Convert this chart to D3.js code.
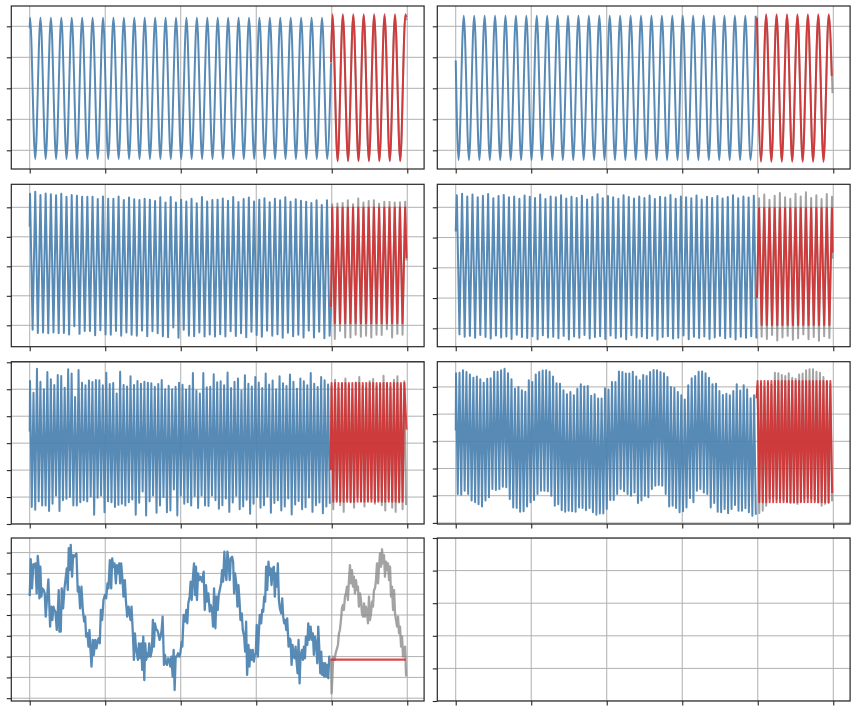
<!DOCTYPE html>
<html>
<head>
<meta charset="utf-8">
<script src="https://cdn.jsdelivr.net/npm/d3@7"></script>
<style>
  html, body { margin: 0; padding: 0; background: #ffffff; }
  svg { display: block; }
</style>
</head>
<body>
<svg id="chart" width="856" height="712"></svg>
<script>
// ---------------- DATA ----------------
// shared time axis
const xTickValues = [0, 100, 200, 300, 400, 500];

// Panel A (row 1, left): extremes of a sine, half-period grid starting at a peak
const aTrainHead = [0, 1.94], aTrainTail = [399, 0.8];
const aTrainPeaks   = [2.28,2.28,2.28,2.28,2.28,2.28,2.28,2.28,2.28,2.28,2.28,2.28,2.28,2.28,2.28,2.28,2.28,2.28,2.28,2.28,2.28,2.28,2.28,2.28,2.28,2.28,2.28,2.28,2.28];
const aTrainTroughs = [-2.28,-2.28,-2.28,-2.28,-2.28,-2.28,-2.28,-2.28,-2.28,-2.28,-2.28,-2.28,-2.28,-2.28,-2.28,-2.28,-2.28,-2.28,-2.28,-2.28,-2.28,-2.28,-2.28,-2.28,-2.28,-2.28,-2.28,-2.28,-2.28];
const aTestHead = [399, 0.75], aTestTail = [499, 2.2];
const aTestPeaks   = [2.33,2.33,2.33,2.33,2.33,2.33,2.33,2.33];
const aTestTroughs = [-2.33,-2.33,-2.33,-2.33,-2.33,-2.33,-2.33];
const aFcHead = [399, 0.85], aFcTail = [499, 2.3];
const aFcPeaks   = [2.39,2.39,2.39,2.39,2.39,2.39,2.39,2.39];
const aFcTroughs = [-2.35,-2.35,-2.35,-2.35,-2.35,-2.35,-2.35];

// Panel B (row 1, right): grid starting at a trough
const bTrainHead = [0, 0.9];
const bTrainTroughs = [-2.31,-2.31,-2.31,-2.31,-2.31,-2.31,-2.31,-2.31,-2.31,-2.31,-2.31,-2.31,-2.31,-2.31,-2.31,-2.31,-2.31,-2.31,-2.31,-2.31,-2.31,-2.31,-2.31,-2.31,-2.31,-2.31,-2.31,-2.31,-2.31];
const bTrainPeaks   = [2.34,2.34,2.34,2.34,2.34,2.34,2.34,2.34,2.34,2.34,2.34,2.34,2.34,2.34,2.34,2.34,2.34,2.34,2.34,2.34,2.34,2.34,2.34,2.34,2.34,2.34,2.34,2.34,2.34];
const bTestHead = [399, 2.25], bTestTail = [499, -0.16];
const bTestTroughs = [-2.33,-2.33,-2.33,-2.33,-2.33,-2.33,-2.33];
const bTestPeaks   = [2.35,2.35,2.35,2.35,2.35,2.35,2.35];
const bFcHead = [399, 2.28], bFcTail = [498, 0.4];
const bFcTroughs = [-2.37,-2.37,-2.37,-2.37,-2.37,-2.37,-2.37];
const bFcPeaks   = [2.39,2.39,2.39,2.39,2.39,2.39,2.39];

// Panel C (row 2, left)
const cTrainHead = [0, 1.34], cTrainTail = [399, -1.4];
const cTrainPeaks = [2.46,2.53,2.42,2.47,2.44,2.41,2.46,2.36,2.42,2.39,2.36,2.36,2.36,2.28,2.37,2.29,2.29,2.37,2.25,2.33,2.27,2.25,2.29,2.26,2.21,2.34,2.16,2.35,2.16,2.26,2.20,2.29,2.14,2.35,2.20,2.25,2.26,2.30,2.22,2.35,2.18,2.28,2.33,2.20,2.26,2.31,2.17,2.29,2.24,2.34,2.19,2.27,2.22,2.19,2.15,2.24,2.08,2.24];
const cTrainTroughs = [-2.15,-2.26,-2.24,-2.27,-2.24,-2.27,-2.26,-2.31,-2.03,-2.29,-2.19,-2.19,-2.34,-2.17,-2.31,-2.32,-2.19,-2.35,-2.24,-2.32,-2.35,-2.18,-2.37,-2.20,-2.27,-2.37,-2.40,-2.07,-2.42,-2.15,-2.35,-2.37,-2.24,-2.38,-2.31,-2.38,-2.30,-2.38,-2.20,-2.36,-2.27,-2.40,-2.22,-2.33,-2.39,-2.18,-2.35,-2.30,-2.42,-2.25,-2.37,-2.32,-2.41,-2.18,-2.41,-2.22,-2.44,-2.35];
const cTestHead = [399, -1.4], cTestTail = [499, 0.2];
const cTestPeaks = [2.10,2.13,2.15,2.24,2.10,2.30,2.16,2.21,2.24,2.12,2.19,2.18,2.16,2.17,2.19];
const cTestTroughs = [-2.46,-2.19,-2.41,-2.41,-2.32,-2.39,-2.35,-2.41,-2.32,-2.33,-2.13,-2.41,-2.29,-2.32];
const cFcHead = [399, -1.4], cFcTail = [499, 0.27];
const cFcPeaks = [1.99,1.99,1.99,1.99,1.99,1.99,1.99,1.99,1.99,1.99,1.99,1.99,1.99,1.99,1.99];
const cFcTroughs = [-1.93,-1.93,-1.93,-1.93,-1.93,-1.93,-1.93,-1.93,-1.93,-1.93,-1.93,-1.93,-1.93,-1.93];

// Panel D (row 2, right)
const dTrainHead = [0, 1.2];
const dTrainPeaks = [2.40,2.45,2.36,2.42,2.33,2.38,2.44,2.30,2.37,2.41,2.33,2.36,2.28,2.39,2.35,2.31,2.42,2.27,2.36,2.33,2.40,2.29,2.35,2.31,2.38,2.26,2.34,2.43,2.30,2.37,2.33,2.28,2.40,2.34,2.29,2.36,2.31,2.39,2.27,2.35,2.32,2.41,2.28,2.36,2.33,2.30,2.39,2.26,2.35,2.31,2.37,2.29,2.34,2.40,2.30,2.36,2.32,2.38];
const dTrainTroughs = [-2.20,-2.28,-2.25,-2.31,-2.22,-2.29,-2.34,-2.24,-2.30,-2.27,-2.35,-2.21,-2.29,-2.32,-2.26,-2.36,-2.23,-2.30,-2.28,-2.33,-2.25,-2.37,-2.27,-2.31,-2.22,-2.34,-2.29,-2.26,-2.35,-2.24,-2.32,-2.28,-2.36,-2.23,-2.30,-2.27,-2.33,-2.25,-2.38,-2.29,-2.26,-2.34,-2.31,-2.24,-2.36,-2.28,-2.32,-2.27,-2.35,-2.30,-2.25,-2.33,-2.29,-2.37,-2.28,-2.31,-2.26,-2.34];
const dTestHead = [399, -1.0], dTestTail = [499, 0.3];
const dTestPeaks = [2.30,2.42,2.25,2.38,2.47,2.33,2.28,2.45,2.36,2.50,2.31,2.40,2.27,2.44,2.35];
const dTestTroughs = [-2.28,-2.35,-2.22,-2.40,-2.30,-2.25,-2.38,-2.33,-2.20,-2.36,-2.29,-2.41,-2.26,-2.32];
const dFcHead = [399, -1.0], dFcTail = [499, 0.5];
const dFcPeaks = [1.98,1.98,1.98,1.98,1.98,1.98,1.98,1.98,1.98,1.98,1.98,1.98,1.98,1.98,1.98];
const dFcTroughs = [-1.89,-1.89,-1.89,-1.89,-1.89,-1.89,-1.89,-1.89,-1.89,-1.89,-1.89,-1.89,-1.89,-1.89];

// Panel E (row 3, left)
const eTrainHead = [0, 0.43];
const eTrainPeaks = [2.31,1.87,2.76,2.28,2.00,2.64,2.37,2.16,2.53,2.49,2.06,2.74,2.58,1.71,2.71,2.24,2.15,2.32,2.27,2.34,2.33,2.15,2.61,2.19,2.23,1.84,2.65,2.16,2.10,2.48,2.16,2.31,2.20,2.28,2.24,2.22,2.09,2.19,2.34,2.00,2.13,2.00,2.09,2.24,2.17,1.99,2.13,2.60,1.95,1.84,2.60,2.07,2.09,2.56,2.26,
  2.30,2.15,2.62,2.05,2.28,2.40,1.95,2.52,2.20,2.10,2.45,2.25,2.05,2.58,2.18,2.32,2.00,2.48,2.22,2.12,2.55,2.28,2.02,2.40,2.30,2.15,2.60,2.20,2.08,2.45,2.33,2.18];
const eTrainTroughs = [-2.37,-2.47,-2.16,-2.31,-2.31,-2.52,-2.25,-1.94,-2.52,-2.12,-2.06,-2.00,-2.31,-2.31,-2.19,-2.12,-2.16,-1.98,-2.66,-2.03,-1.94,-2.56,-2.16,-2.19,-2.37,-2.29,-2.25,-2.31,-2.19,-2.09,-2.66,-2.21,-1.79,-2.68,-2.16,-1.94,-2.58,-2.31,-2.00,-2.56,-2.50,-1.72,-2.68,-1.94,-2.25,-2.19,-2.31,-1.96,-2.41,-1.94,-2.31,-2.33,-1.94,-2.12,-2.43,
  -2.30,-2.05,-2.55,-2.20,-1.95,-2.45,-2.35,-2.10,-2.62,-2.25,-2.00,-2.40,-2.30,-1.98,-2.58,-2.22,-2.12,-2.50,-2.35,-2.05,-2.65,-2.28,-2.15,-2.45,-2.38,-2.02,-2.55,-2.30,-2.20,-2.60,-2.35,-2.25];
const eTestHead = [398.5, -1.0];
const eTestPeaks = [2.10,2.35,2.05,2.20,2.40,2.15,2.00,2.25,2.45,2.12,2.05,2.30,2.38,2.10,2.18,2.50,2.22,2.08,2.35,2.48,2.15,2.30];
const eTestTroughs = [-2.45,-2.10,-2.30,-2.55,-2.05,-2.20,-2.40,-2.00,-2.15,-2.35,-2.10,-2.05,-2.25,-2.12,-2.30,-2.50,-2.08,-2.40,-2.55,-2.20,-2.45,-2.30];
const eFcHead = [398.5, -1.0], eFcTail = [499, 0.5];
const eFcPeaks = [2.23,2.23,2.23,2.23,2.23,2.23,2.23,2.23,2.23,2.23,2.23,2.23,2.23,2.23,2.23,2.23,2.23,2.23,2.23,2.23,2.23,2.23];
const eFcTroughs = [-2.17,-2.17,-2.17,-2.17,-2.17,-2.17,-2.17,-2.17,-2.17,-2.17,-2.17,-2.17,-2.17,-2.17,-2.17,-2.17,-2.17,-2.17,-2.17,-2.17,-2.17];

// Panel F (row 3, right)
const fTrainHead = [0, 0.4];
const fTrainPeaks = [2.50,2.52,2.61,2.55,2.46,2.34,2.38,2.28,2.15,2.30,2.32,2.56,2.56,2.61,2.67,2.50,2.28,1.93,2.00,1.88,1.82,2.24,2.18,2.46,2.55,2.60,2.61,2.56,2.38,2.13,2.12,1.88,1.73,1.81,1.69,1.93,2.10,2.01,2.03,1.67,1.73,1.57,1.57,1.95,1.90,2.18,2.18,2.57,2.55,2.49,2.49,2.56,2.38,2.24,2.44,2.40,2.55,2.62,2.61,2.55,2.50,2.36,2.00,1.96,1.81,1.69,1.54,2.06,2.32,2.40,2.56,2.57,
  2.50,2.34,2.10,2.12,1.85,1.70,1.75,1.69,1.85,2.10,1.87,2.06,1.91,1.58,1.69];
const fTrainTroughs = [-1.94,-1.96,-1.82,-1.94,-2.18,-2.24,-2.31,-2.40,-2.18,-2.06,-1.75,-1.79,-1.75,-1.67,-1.69,-2.12,-2.43,-2.45,-2.59,-2.57,-2.40,-2.24,-2.16,-1.94,-1.82,-1.82,-1.84,-2.00,-2.37,-2.31,-2.53,-2.59,-2.55,-2.57,-2.59,-2.43,-2.45,-2.53,-2.45,-2.61,-2.70,-2.65,-2.65,-2.49,-2.16,-2.16,-1.94,-1.75,-1.84,-1.94,-2.00,-1.88,-2.27,-2.18,-2.00,-2.06,-1.75,-1.63,-1.61,-1.63,-1.94,-2.40,-2.37,-2.45,-2.61,-2.57,-2.43,-2.08,-2.24,-1.82,-1.75,-1.88,-1.94,
  -2.43,-2.27,-2.59,-2.61,-2.49,-2.64,-2.49,-2.34,-2.55,-2.55,-2.46,-2.61,-2.74,-2.70];
const fTestHead = [398.5, 1.58];
const fTestPeaks = [2.05,2.12,2.00,2.15,2.08,2.52,2.50,2.44,2.40,2.50,2.34,2.30,2.46,2.49,2.61,2.65,2.65,2.56,2.52,2.36,2.20,2.10];
const fTestTroughs = [-2.64,-2.55,-2.37,-2.10,-2.05,-2.12,-2.08,-2.15,-2.20,-2.27,-2.26,-2.30,-2.20,-2.10,-2.05,-2.10,-2.15,-2.25,-2.37,-2.30,-2.27,-2.20];
const fFcHead = [398.5, 1.58], fFcTail = [498.5, -1.9];
const fFcPeaks = [2.22,2.22,2.22,2.22,2.22,2.22,2.22,2.22,2.22,2.22,2.22,2.22,2.22,2.22,2.22,2.22,2.22,2.22,2.22,2.22,2.22,2.22];
const fFcTroughs = [-2.24,-2.24,-2.24,-2.24,-2.24,-2.24,-2.24,-2.24,-2.24,-2.24,-2.24,-2.24,-2.24,-2.24,-2.24,-2.24,-2.24,-2.24,-2.24,-2.24,-2.24];

// Panel G (row 4, left): noisy series, [time, value]
const gTrain = [[0,0.91],[1.3,2.68],[3,1.28],[4.8,2.44],[6.6,2.32],[7.5,2.48],[9.2,1.04],[10.6,2.84],[11.9,2.32],[12.8,0.80],[14.1,2.32],[15.4,0.88],[16.8,1.28],[18.5,1.20],[19.9,1.04],[21.2,-0.08],[24.7,1.71],[27,-0.56],[28.3,0.40],[30,-0.24],[31.4,0.40],[32.7,0.24],[34,0.16],[35.8,-0.72],[37.1,0.08],[38.4,1.20],[39.3,-0.80],[41.1,-0.80],[42.4,1.28],[44.2,0.32],[46,1.28],[47.3,1.68],[49.1,2.24],[50.4,1.20],[51.7,3.21],[53,2.16],[54.3,3.37],[56.1,1.84],[57.5,2.88],[58.8,2.80],[61.9,2.96],[63.6,1.12],[65,1.36],[66.7,0.32],[68.5,1.36],[70.3,0.24],[72.1,-0.32],[73.4,-0.08],[74.7,-1.04],[76.5,-0.88],[77.8,-1.52],[79.1,-0.72],[80.5,-1.68],[81.8,-2.48],[83.5,-1.20],[84.9,-1.92],[86.7,-1.20],[88.4,-1.60],[90.2,-1.20],[91.5,-1.12],[92.8,-1.36],[94.2,0.24],[95.9,-0.24],[97.7,0.72],[99.5,0.96],[101.2,0.80],[103,1.52],[104.3,1.28],[106.1,2.64],[107.9,1.28],[109.2,2.72],[110.5,2.32],[112.3,2.48],[114.1,1.52],[115.4,2.40],[117.2,2.00],[118.5,2.48],[119.8,1.52],[121.1,2.48],[122.9,1.68],[124.2,0.88],[126,1.68],[127.3,0.72],[129.1,-0.08],[130.9,0.40],[132.2,0.08],[133.5,-0.24],[134.8,0.40],[136.6,-0.88],[138,-2.16],[139.3,-0.88],[140.6,-1.52],[141.9,-1.84],[143.3,-2.16],[144.6,-1.36],[146.4,-2.08],[147.7,-1.36],[149,-2.64],[150.4,-1.04],[151.7,-3.13],[153,-1.36],[154.3,-2.16],[155.6,-1.84],[157,-2.00],[158.3,-1.36],[160.1,-2.00],[161.8,-1.68],[163.1,-0.24],[164.5,-1.52],[165.8,-0.40],[167.6,-0.72],[168.9,-0.72],[170.2,-0.88],[172,-1.20],[173.3,-1.04],[174.7,-0.72],[176,-0.08],[177.8,-2.40],[179.1,-1.92],[180.4,-2.32],[181.8,-2.40],[183.5,-2.08],[184.9,-2.16],[186.2,-2.48],[187.5,-2.00],[189.3,-2.96],[190.6,-1.68],[191.9,-3.61],[193.3,-2.00],[195,-2.00],[196.3,-1.84],[198.1,-2.00],[199.4,-1.84],[201.2,-1.28],[202.1,-1.52],[203.8,0.00],[205.6,-0.32],[207.4,0.24],[208.7,-0.40],[210,0.56],[211.8,0.88],[213.1,1.60],[214.5,0.72],[216.2,1.84],[217.6,2.48],[218.9,0.96],[220.2,2.32],[221.5,0.72],[222.9,2.00],[224.6,1.68],
  [226,1.84],[228.2,1.60],[230.4,2.08],[231.8,0.24],[233.5,1.44],[234.8,0.64],[236.6,1.04],[238.4,0.16],[239.7,0.48],[241.5,0.24],[242.8,-0.56],[244.1,1.28],[245.9,-0.64],[247.2,0.88],[249,0.24],[250.3,0.96],[251.7,1.20],[253.4,1.52],[254.8,2.16],[256.1,1.60],[257.8,3.04],[259.2,2.00],[260.5,1.68],[261.8,3.04],[263.2,2.64],[264.9,1.68],[266.3,2.72],[268,2.80],[269.4,2.56],[270.7,1.04],[272,2.00],[273.8,1.44],[275.1,0.40],[276.4,1.44],[277.8,0.72],[279.1,-0.24],[280.8,0.08],[282.2,-0.72],[284,-1.04],[285.3,-1.76],[286.6,-0.32],[287.9,-2.88],[289.7,-1.44],[291,-2.48],[292.3,-1.68],[293.7,-2.16],[295.4,-1.68],[296.8,-2.24],[298.1,-1.92],[299.4,-1.84],[300.7,-0.48],[302.1,-2.00],[303.4,-0.88],[304.7,0.00],[306.5,-0.40],[307.8,0.24],[309.2,0.16],[310.5,0.88],[311.8,0.64],[313.1,2.32],[314.5,1.20],[316.2,2.56],[317.6,1.92],[318.9,2.24],[320.2,1.44],[322,2.24],[323.3,2.32],[324.6,0.88],[326,2.00],[327.3,1.36],[328.6,2.48],[330,0.72],[331.3,0.32],[333.1,0.08],[334.4,0.80],[335.7,-0.08],[337,-0.40],[338.4,-0.24],[339.7,-0.72],[341,-0.16],[342.8,-1.52],[344.1,-1.12],[345.4,-1.20],[346.8,-2.40],[348.1,-1.44],[349.4,-2.00],[350.7,-2.08],[352.1,-1.52],[353.4,-2.24],[354.7,-2.80],[356,-1.20],[357.4,-3.29],[358.7,-1.92],[360.5,-1.68],[361.8,-2.16],[363.1,-1.52],[364.5,-2.08],[365.8,-1.04],[367.6,-1.44],[368.9,-0.40],[370.2,-1.20],[372,-0.56],
  [373.7,-1.20],[375,-0.88],[376.3,-1.92],[377.7,-1.04],[379.4,-1.44],[380.8,-2.32],[382.1,-0.56],[383.4,-1.52],[384.8,-2.80],[386.1,-1.76],[387.4,-2.88],[388.7,-2.32],[390.1,-2.96],[391.4,-2.32],[392.7,-2.96],[394,-2.40],[395.4,-3.04],[396.7,-2.00],[398,-2.00]];
const gTest = [[399,-2.16],[399.8,-3.77],[400.7,-3.13],[402,-2.00],[403.8,-2.16],[405.1,-1.84],[406.4,-1.68],[408.2,-1.44],[409.5,-0.88],[410.8,-0.72],[412.2,-0.24],[413.5,0.32],[414.8,0.48],[416.1,0.24],[417.5,0.88],[418.8,1.04],[420.1,1.36],[421.4,0.72],[422.8,1.68],[424.1,2.40],[425.4,1.52],[426.8,2.16],[428.1,1.36],[429.4,1.84],[430.7,1.04],[432.1,1.68],[433.4,1.20],[434.7,1.36],[436,0.40],[437.4,1.04],[438.7,0.72],[440,0.08],[441.4,-0.08],[442.7,0.56],[444,-0.08],[445.3,0.40],[446.7,0.08],[448,-0.40],[449.3,0.88],[450.6,-0.24],[452,0.08],[453.3,0.64],[454.6,0.40],[455.9,1.20],[457.3,1.28],[458.6,1.68],[459.9,2.48],[461.3,1.52],[462.6,2.32],[463.9,2.96],[465.2,2.32],[466.6,3.16],[467.9,2.48],[469.2,2.88],[470.5,1.84],[471.9,2.56],[473.2,2.16],[474.5,2.48],[475.9,1.68],[477.2,2.32],[478.5,0.88],[479.8,1.36],[481.2,0.24],[482.5,1.20],[483.8,0.08],[485.1,-0.24],[486.5,-0.56],[487.8,-0.08],[489.1,-0.88],[490.4,-0.56],[491.8,-1.52],[493.1,-1.04],[494.4,-2.00],[495.8,-1.68],[497.1,-1.52],[498.5,-2.96]];
const gForecast = [[398,-2.15],[498,-2.15]];

// time grids (first extreme time, half period) per row
const row1HalfPeriod = 6.905, row2HalfPeriod = 3.45, row3HalfPeriod = 2.295;
const aFirstPeak = 0.4, bFirstTrough = 3.73, cFirstPeak = 0.4, dFirstPeak = 1.5, eFirstPeak = 0.4, fFirstPeak = 0.4;

// y tick values per panel
const yTicksRow1 = [-2, -1, 0, 1, 2];
const yTicksRow2 = [-2, -1, 0, 1, 2];
const yTicksE = [-3, -2, -1, 0, 1, 2, 3];
const yTicksF = [-3, -2, -1, 0, 1, 2];
const yTicksG = [-4, -3, -2, -1, 0, 1, 2, 3];
const yTicksEmpty = [0, 0.2, 0.4, 0.6, 0.8, 1.0];

// ---------------- HELPERS ----------------
function zig(t0, dt, first, second) {
  const out = [];
  const n = Math.max(first.length, second.length);
  for (let i = 0; i < n; i++) {
    if (i < first.length) out.push([t0 + 2 * i * dt, first[i]]);
    if (i < second.length) out.push([t0 + (2 * i + 1) * dt, second[i]]);
  }
  return out;
}
function build(head, body, tail) {
  const pts = [];
  if (head) pts.push(head);
  pts.push(...body);
  if (tail) pts.push(tail);
  return pts;
}
function oscPanel(t0, dt, tr, te, fc) {
  const nTrain = tr.first.length + tr.second.length;
  const tTest = t0 + nTrain * dt;
  return {
    train: build(tr.head, zig(t0, dt, tr.first, tr.second), tr.tail),
    test: build(te.head, zig(tTest, dt, te.first, te.second), te.tail),
    fc: build(fc.head, zig(tTest, dt, fc.first, fc.second), fc.tail)
  };
}

const A = oscPanel(aFirstPeak, row1HalfPeriod,
  {head: aTrainHead, first: aTrainPeaks, second: aTrainTroughs, tail: aTrainTail},
  {head: aTestHead, first: aTestPeaks, second: aTestTroughs, tail: aTestTail},
  {head: aFcHead, first: aFcPeaks, second: aFcTroughs, tail: aFcTail});
const B = oscPanel(bFirstTrough, row1HalfPeriod,
  {head: bTrainHead, first: bTrainTroughs, second: bTrainPeaks},
  {head: bTestHead, first: bTestTroughs, second: bTestPeaks, tail: bTestTail},
  {head: bFcHead, first: bFcTroughs, second: bFcPeaks, tail: bFcTail});
const C = oscPanel(cFirstPeak, row2HalfPeriod,
  {head: cTrainHead, first: cTrainPeaks, second: cTrainTroughs, tail: cTrainTail},
  {head: cTestHead, first: cTestPeaks, second: cTestTroughs, tail: cTestTail},
  {head: cFcHead, first: cFcPeaks, second: cFcTroughs, tail: cFcTail});
const D = oscPanel(dFirstPeak, row2HalfPeriod,
  {head: dTrainHead, first: dTrainPeaks, second: dTrainTroughs},
  {head: dTestHead, first: dTestPeaks, second: dTestTroughs, tail: dTestTail},
  {head: dFcHead, first: dFcPeaks, second: dFcTroughs, tail: dFcTail});
const E = oscPanel(eFirstPeak, row3HalfPeriod,
  {head: eTrainHead, first: eTrainPeaks, second: eTrainTroughs},
  {head: eTestHead, first: eTestPeaks, second: eTestTroughs},
  {head: eFcHead, first: eFcPeaks, second: eFcTroughs, tail: eFcTail});
const F = oscPanel(fFirstPeak, row3HalfPeriod,
  {head: fTrainHead, first: fTrainPeaks, second: fTrainTroughs},
  {head: fTestHead, first: fTestPeaks, second: fTestTroughs},
  {head: fFcHead, first: fFcPeaks, second: fFcTroughs, tail: fFcTail});
const G = {train: gTrain, test: gTest, fc: gForecast};

// ---------------- LAYOUT / STYLE ----------------
const COL_X = [11.3, 437.3];
const PANEL_W = 412.8;
const ROWS = [[6, 163], [184.3, 162.4], [361.7, 162.3], [538, 163]];
const X_DOMAIN = [-24.4, 522.3];
const BLUE = '#4a80b0', GRAY = '#808080', RED = '#d62728';

const panels = [
  {col: 0, row: 0, yDomain: [-2.603, 2.655], yTicks: yTicksRow1, data: A, curve: d3.curveMonotoneX, lw: 2},
  {col: 1, row: 0, yDomain: [-2.603, 2.655], yTicks: yTicksRow1, data: B, curve: d3.curveMonotoneX, lw: 2},
  {col: 0, row: 1, yDomain: [-2.725, 2.780], yTicks: yTicksRow2, data: C, curve: d3.curveLinear, lw: 2},
  {col: 1, row: 1, yDomain: [-2.608, 2.760], yTicks: yTicksRow2, data: D, curve: d3.curveLinear, lw: 2},
  {col: 0, row: 2, yDomain: [-3.0, 3.022], yTicks: yTicksE, data: E, curve: d3.curveLinear, lw: 2},
  {col: 1, row: 2, yDomain: [-3.040, 2.926], yTicks: yTicksF, data: F, curve: d3.curveLinear, lw: 2},
  {col: 0, row: 3, yDomain: [-4.135, 3.702], yTicks: yTicksG, data: G, curve: d3.curveLinear, lw: 2.3},
  {col: 1, row: 3, yDomain: [0, 1], yTicks: yTicksEmpty, data: null, curve: d3.curveLinear, lw: 2}
];

const svg = d3.select('#chart');
svg.append('rect').attr('width', 856).attr('height', 712).attr('fill', '#ffffff');
const defs = svg.append('defs');

panels.forEach((p, i) => {
  const x0 = COL_X[p.col];
  const [y0, h] = ROWS[p.row];
  const x = d3.scaleLinear().domain(X_DOMAIN).range([x0, x0 + PANEL_W]);
  const y = d3.scaleLinear().domain(p.yDomain).range([y0 + h, y0]);
  const g = svg.append('g');

  defs.append('clipPath').attr('id', 'clip' + i)
    .append('rect').attr('x', x0).attr('y', y0).attr('width', PANEL_W).attr('height', h);

  // grid
  const grid = g.append('g').attr('clip-path', `url(#clip${i})`);
  grid.selectAll('line.gx').data(xTickValues).join('line')
    .attr('class', 'gx')
    .attr('x1', d => x(d)).attr('x2', d => x(d))
    .attr('y1', y0).attr('y2', y0 + h)
    .attr('stroke', '#b0b0b0').attr('stroke-width', 1);
  grid.selectAll('line.gy').data(p.yTicks).join('line')
    .attr('class', 'gy')
    .attr('x1', x0).attr('x2', x0 + PANEL_W)
    .attr('y1', d => y(d)).attr('y2', d => y(d))
    .attr('stroke', '#b0b0b0').attr('stroke-width', 1);

  // lines
  if (p.data) {
    const line = d3.line().x(d => x(d[0])).y(d => y(d[1])).curve(p.curve);
    const lg = g.append('g').attr('clip-path', `url(#clip${i})`);
    const ser = [
      {pts: p.data.train, color: BLUE, op: 0.92},
      {pts: p.data.test, color: GRAY, op: 0.72},
      {pts: p.data.fc, color: RED, op: 0.84}
    ];
    lg.selectAll('path').data(ser).join('path')
      .attr('d', d => line(d.pts))
      .attr('fill', 'none')
      .attr('stroke', d => d.color)
      .attr('stroke-opacity', d => d.op)
      .attr('stroke-width', p.lw)
      .attr('stroke-linejoin', 'round');
  }

  // axes (ticks only, no labels)
  const ax = d3.axisBottom(x).tickValues(xTickValues).tickSize(4.5).tickSizeOuter(0).tickFormat('');
  const ay = d3.axisLeft(y).tickValues(p.yTicks).tickSize(4.5).tickSizeOuter(0).tickFormat('');
  const gx = g.append('g').attr('transform', `translate(0,${y0 + h})`).call(ax);
  const gy = g.append('g').attr('transform', `translate(${x0},0)`).call(ay);
  [gx, gy].forEach(a => {
    a.select('.domain').remove();
    a.selectAll('line').attr('stroke', '#262626').attr('stroke-width', 1.1);
  });

  // spines
  g.append('rect')
    .attr('x', x0).attr('y', y0).attr('width', PANEL_W).attr('height', h)
    .attr('fill', 'none').attr('stroke', '#262626').attr('stroke-width', 1.2);
});
</script>
</body>
</html>
